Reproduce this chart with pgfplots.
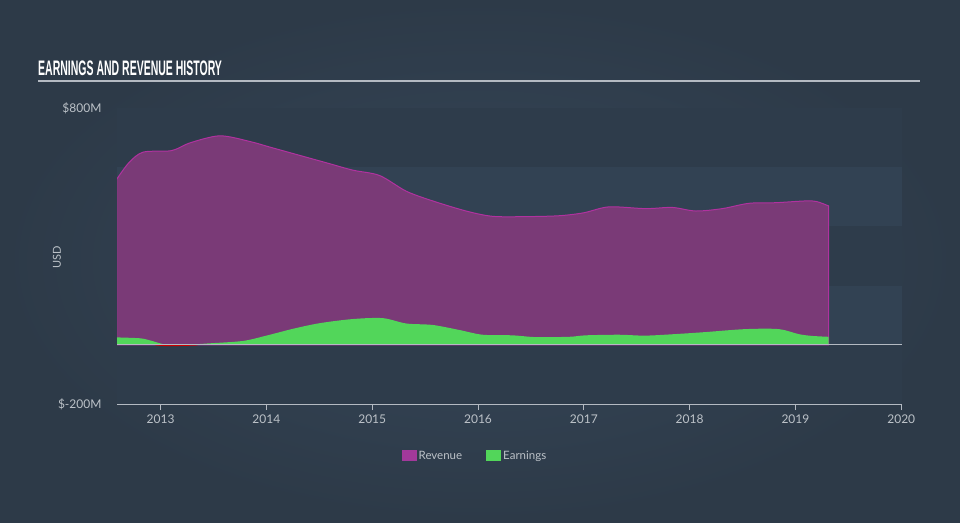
\documentclass[border=0pt]{standalone}
\usepackage{pgfplots}
\pgfplotsset{compat=1.18}
\usepackage{fontspec}
\setmainfont{Lato}
\newfontfamily\titlefont[FakeStretch=0.5]{Liberation Sans}
\definecolor{bgin}{HTML}{364759}
\definecolor{bgout}{HTML}{2D3A48}
\definecolor{banddark}{HTML}{2E3C4B}
\definecolor{bandlight}{HTML}{324253}
\definecolor{revfill}{HTML}{7A3A77}
\definecolor{revline}{HTML}{B0329F}
\definecolor{revswatch}{HTML}{A2399A}
\definecolor{earnfill}{HTML}{52D65A}
\definecolor{txt}{HTML}{BCC2C8}
\definecolor{axisc}{HTML}{B4BAC2}
\begin{document}
\begin{tikzpicture}[x=1pt,y=1pt]
\shade[inner color=bgin, outer color=bgout] (0,0) rectangle (960,522);
\useasboundingbox (0,0) rectangle (960,522);
\node[anchor=west,text=white,inner sep=0pt,font=\titlefont\bfseries\fontsize{21}{23}\selectfont] at (38,454) {EARNINGS AND REVENUE HISTORY};
\draw[line width=1.5pt, color=axisc] (38,441) -- (920,441);
\node[rotate=90, text=txt, font=\fontsize{11}{13}\selectfont] at (57,265) {USD};
\begin{axis}[
  at={(117pt,118pt)}, anchor=south west,
  width=785pt, height=296pt, scale only axis,
  xmin=2012.588, xmax=2020.007, ymin=-200, ymax=800,
  axis x line=bottom, axis y line=left,
  x axis line style={color=axisc, -, line width=0.8pt},
  y axis line style={draw=none},
  xtick={2013,2014,2015,2016,2017,2018,2019,2020},
  ytick={-200,800}, yticklabels={\$-200M,\$800M},
  tick align=outside, major tick length=6pt,
  xtick style={color=axisc, line width=0.8pt},
  ytick style={draw=none},
  /pgf/number format/1000 sep={},
  /pgf/number format/assume math mode=true,
  xticklabel style={text=txt, font=\fontsize{12}{14}\selectfont, yshift=-1pt},
  yticklabel style={text=txt, font=\fontsize{12}{14}\selectfont, xshift=-6pt},
  legend style={at={(0.456,-0.176)}, anchor=center, draw=none, fill=none,
    text=txt, font=\fontsize{11.5}{13}\selectfont, legend columns=2,
    /tikz/every even column/.append style={column sep=22pt}},
  legend image code/.code={\fill[#1] (0pt,-5pt) rectangle (15pt,6pt);},
]
\fill[banddark] (axis cs:2012.588,-200) rectangle (axis cs:2020.007,0);
\fill[bandlight] (axis cs:2012.588,0) rectangle (axis cs:2020.007,200);
\fill[banddark] (axis cs:2012.588,200) rectangle (axis cs:2020.007,400);
\fill[bandlight] (axis cs:2012.588,400) rectangle (axis cs:2020.007,600);
\fill[banddark] (axis cs:2012.588,600) rectangle (axis cs:2020.007,800);
\addplot[fill=revfill, draw=revline, line width=1pt, smooth, forget plot] coordinates {
(2012.585,559) (2012.70,615) (2012.836,651) (2013.104,656) (2013.276,682) (2013.559,706)
(2013.842,687) (2014.062,665) (2014.566,615) (2014.817,590) (2015.069,572)
(2015.321,519) (2015.572,486) (2015.887,452) (2016.138,434) (2016.45,433)
(2016.767,436) (2017.0,446) (2017.238,466) (2017.585,460) (2017.836,464)
(2018.057,452) (2018.308,460) (2018.560,478) (2018.811,480) (2019.094,486)
(2019.20,484) (2019.314,469)} \closedcycle;
\addplot[fill=earnfill, draw=none, smooth, forget plot] coordinates {
(2012.585,25) (2012.805,22) (2012.899,15) (2013.057,0) (2013.245,0)
(2013.465,5) (2013.779,13) (2014.0,31) (2014.251,54) (2014.503,73) (2014.817,87)
(2015.1,90) (2015.321,72) (2015.572,67) (2015.824,50) (2016.043,34) (2016.323,32)
(2016.547,26) (2016.861,27) (2017.019,32) (2017.333,34) (2017.585,31) (2017.9,37)
(2018.151,43) (2018.528,53) (2018.842,53) (2019.031,36) (2019.157,30) (2019.314,27)} \closedcycle;
\addplot[draw=red!80!black, line width=1.2pt, smooth, forget plot] coordinates {
(2012.95,0) (2013.057,-2.5) (2013.245,-1.5) (2013.35,0)};
\draw[axisc, line width=0.8pt] (axis cs:2012.588,0) -- (axis cs:2020.007,0);
\addlegendimage{fill=revswatch, draw=none}
\addlegendentry{Revenue}
\addlegendimage{fill=earnfill, draw=none}
\addlegendentry{Earnings}
\end{axis}
\end{tikzpicture}
\end{document}
